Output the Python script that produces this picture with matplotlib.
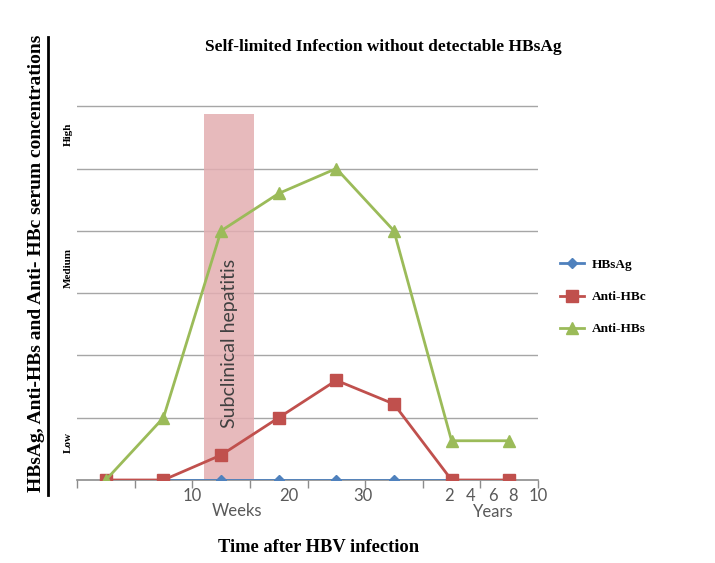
import matplotlib
matplotlib.use("Agg")
import matplotlib.pyplot as plt
from matplotlib.lines import Line2D
from matplotlib.transforms import blended_transform_factory

# category slots along the time axis (8 sampling points)
slots = list(range(8))
hbsag = [0, 0, 0, 0, 0, 0, 0, 0]
anti_hbc = [0, 0, 0.4, 1.0, 1.6, 1.22, 0, 0]
anti_hbs = [0, 1.0, 4.0, 4.6, 5.0, 4.0, 0.63, 0.63]

week_labels = ["10", "20", "30"]
week_pos = [1.5, 3.17, 4.47]
year_labels = ["2", "4", "6", "8", "10"]
year_pos = [5.95, 6.33, 6.71, 7.06, 7.5]
level_labels = ["Low", "Medium", "High"]
level_pos = [0.6, 3.4, 5.55]

band_start, band_end, band_top = 1.71, 2.58, 5.87

serif = ["Liberation Serif"]
sans = ["Lato", "DejaVu Sans"]

fig = plt.figure(figsize=(7.15, 5.63), dpi=100)
ax = fig.add_axes([77 / 715, 83 / 563, 461 / 715, 375 / 563])

ax.set_xlim(-0.5, 7.5)
ax.set_ylim(0, 6.02)

for y in range(1, 7):
    ax.axhline(y, color="#a6a6a6", lw=1, zorder=0)

ax.fill_between([band_start, band_end], 0, band_top, color="#e3aeb1", alpha=0.85,
                lw=0, zorder=1)
ax.text((band_start + band_end) / 2, 2.2, "Subclinical hepatitis", rotation=90,
        ha="center", va="center", fontsize=14, color="#404040", family=sans, zorder=2)

ax.plot(slots, hbsag, color="#4f81bd", marker="D", ms=5, lw=2, label="HBsAg", zorder=3)
ax.plot(slots, anti_hbc, color="#c0504d", marker="s", ms=8, lw=2, label="Anti-HBc", zorder=4)
ax.plot(slots, anti_hbs, color="#9bbb59", marker="^", ms=8, lw=2, label="Anti-HBs", zorder=5)

for s in ["top", "right", "left"]:
    ax.spines[s].set_visible(False)
ax.spines["bottom"].set_color("#8c8c8c")
ax.spines["bottom"].set_linewidth(1.2)
ax.set_yticks([])
ax.set_xticks([i - 0.5 for i in range(9)])
ax.set_xticklabels([])
ax.tick_params(axis="x", direction="out", length=6, color="#8c8c8c", width=1)

tr = blended_transform_factory(ax.transData, ax.transAxes)
for lab, p in zip(week_labels + year_labels, week_pos + year_pos):
    ax.text(p, -0.043, lab, transform=tr, ha="center", va="center", fontsize=12,
            color="#595959", family=sans)
ax.text(2.27, -0.083, "Weeks", transform=tr, ha="center", va="center", fontsize=12,
        color="#595959", family=sans)
ax.text(6.73, -0.085, "Years", transform=tr, ha="center", va="center", fontsize=12,
        color="#595959", family=sans)

for lab, p in zip(level_labels, level_pos):
    fig.text(68 / 715, 1 - (480 - p * 62.3) / 563, lab, rotation=90, ha="center",
             va="center", fontsize=8, fontweight="bold", family=serif)

fig.text(383 / 715, 1 - 47 / 563, "Self-limited Infection without detectable HBsAg",
         ha="center", va="center", fontsize=12.5, fontweight="bold", family=serif)
fig.text(319 / 715, 1 - 548 / 563, "Time after HBV infection", ha="center",
         va="center", fontsize=13.3, fontweight="bold", family=serif)
fig.text(37 / 715, 1 - 263 / 563, "HBsAg, Anti-HBs and Anti- HBc serum concentrations",
         rotation=90, ha="center", va="center", fontsize=14, fontweight="bold",
         family=serif)
fig.add_artist(Line2D([48 / 715, 48 / 715], [1 - 37 / 563, 1 - 495 / 563],
                      color="black", lw=2))

leg = fig.legend(loc="center left", bbox_to_anchor=(548 / 715, 1 - 297 / 563),
                 frameon=False, prop={"family": serif, "weight": "bold", "size": 9.5},
                 labelspacing=1.5, handlelength=1.8, handletextpad=0.6)

fig.savefig("out.png", dpi=100)
